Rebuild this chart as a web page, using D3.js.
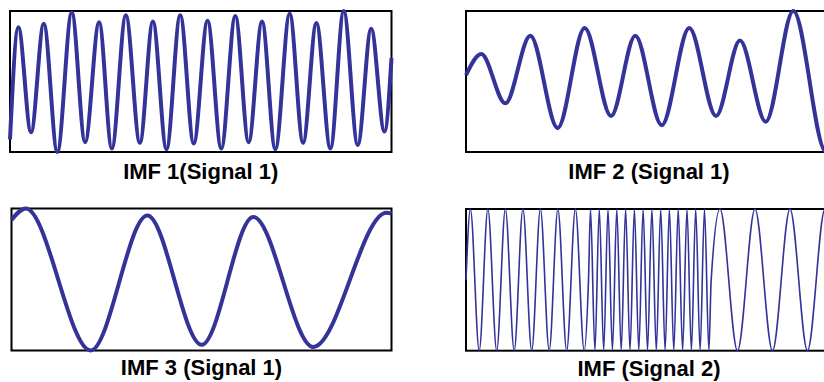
<!DOCTYPE html>
<html>
<head>
<meta charset="utf-8">
<script src="https://cdn.jsdelivr.net/npm/d3@7"></script>
<style>
  html, body { margin: 0; padding: 0; background: #fff; }
  svg { display: block; }
  .panel-title { font-family: "Liberation Sans", Arial, Helvetica, sans-serif; font-weight: bold; font-size: 22px; fill: #000; }
</style>
</head>
<body>
<svg id="chart" width="824" height="382"></svg>
<script>
// Intrinsic mode functions, stored as their turning points (sample index, amplitude).
// Sample index runs 0..1000 across each plot; amplitude is normalised to [-1, 1].

const imf1Times  = [0, 21.8, 55.1, 88.5, 124.1, 161.9, 196.9, 233.6, 266.9, 303.7, 340.4, 374.5, 410.2, 446.2, 481.6,
                    517.8, 553.8, 590.6, 625.5, 660.6, 695.5, 733.1, 768.2, 803.1, 839.9, 874.8, 911.5, 946.7, 981.6, 1000];
const imf1Values = [-0.82, 0.77, -0.72, 0.82, -1.00, 0.98, -0.86, 0.84, -0.95, 0.94, -0.87, 0.85, -0.96, 0.94, -0.88,
                    0.86, -0.95, 0.93, -0.86, 0.85, -0.96, 0.96, -0.87, 0.83, -0.95, 1.00, -0.90, 0.75, -0.71, 0.33];

const imf2Times  = [0, 41.8, 107.4, 175.7, 250.5, 324.3, 396.2, 462.6, 534.7, 610.1, 683.1, 748.6, 818.9, 894.3, 983.6, 1000];
const imf2Values = [0.09, 0.39, -0.31, 0.65, -0.66, 0.76, -0.49, 0.65, -0.62, 0.76, -0.49, 0.58, -0.57, 1.00, -1.00, -0.93];

const imf3Times  = [0, 37.4, 208.4, 357.4, 500.5, 636.3, 794.2, 986.8, 1000];
const imf3Values = [0.84, 1.00, -1.00, 0.90, -0.92, 0.88, -0.95, 0.94, 0.93];

// Signal 2: constant amplitude, three frequency regimes (medium, high, low)
const sig2Times = [
  0,
  12.0, 36.1, 59.8, 83.9, 107.6, 131.7, 155.5, 179.5, 203.3, 227.3, 251.1, 275.1, 298.9, 322.9,
  334.7,
  340.2, 352.2, 364.2, 376.2, 388.0, 400.0, 412.0, 424.0, 436.1, 448.1, 460.1, 472.1, 483.9, 495.9,
  507.9, 519.9, 532.0, 544.0, 555.7, 567.7, 579.8, 591.8, 603.8, 615.8, 627.6, 639.6, 651.6, 663.6,
  669.9,
  694.0, 741.8, 789.6, 837.4, 885.2, 933.0, 980.9, 1000
];
const sig2Values = [
  0,
  1, -1, 1, -1, 1, -1, 1, -1, 1, -1, 1, -1, 1, -1,
  0,
  1, -1, 1, -1, 1, -1, 1, -1, 1, -1, 1, -1, 1, -1,
  1, -1, 1, -1, 1, -1, 1, -1, 1, -1, 1, -1, 1, -1,
  0,
  1, -1, 1, -1, 1, -1, 1, 0.31
];

const titles = ["IMF 1(Signal 1)", "IMF 2 (Signal 1)", "IMF 3 (Signal 1)", "IMF (Signal 2)"];

// Layout of the 2x2 grid
const panels = [
  { times: imf1Times, values: imf1Values, title: titles[0], left: 10,  right: 391.5, top: 11,  bottom: 152,   width: 4,   base: 178.5 },
  { times: imf2Times, values: imf2Values, title: titles[1], left: 466, right: 832,   top: 11,  bottom: 152,   width: 4,   base: 178.5 },
  { times: imf3Times, values: imf3Values, title: titles[2], left: 11.5,right: 391.5, top: 208.5, bottom: 350.5, width: 4, base: 374.5 },
  { times: sig2Times, values: sig2Values, title: titles[3], left: 466, right: 832,   top: 209, bottom: 350.7, width: 1.6, base: 375.5 }
];

const lineColor = "#333399";
const svg = d3.select("#chart");
svg.append("rect").attr("width", 824).attr("height", 382).attr("fill", "#fff");

panels.forEach(p => {
  const x = d3.scaleLinear().domain([0, 1000]).range([p.left, p.right]);
  const y = d3.scaleLinear().domain([-1, 1]).range([p.bottom, p.top]);
  const g = svg.append("g");

  g.append("rect")
    .attr("x", p.left).attr("y", p.top)
    .attr("width", p.right - p.left).attr("height", p.bottom - p.top)
    .attr("fill", "none").attr("stroke", "#000").attr("stroke-width", 2);

  const pts = p.times.map((t, i) => [t, p.values[i]]);
  const line = d3.line()
    .x(d => x(d[0]))
    .y(d => y(d[1]))
    .curve(d3.curveMonotoneX);

  g.append("path")
    .attr("d", line(pts))
    .attr("fill", "none")
    .attr("stroke", lineColor)
    .attr("stroke-width", p.width)
    .attr("stroke-linejoin", "round");

  g.append("text")
    .attr("class", "panel-title")
    .attr("x", (p.left + p.right) / 2)
    .attr("y", p.base)
    .attr("text-anchor", "middle")
    .text(p.title);
});
</script>
</body>
</html>
